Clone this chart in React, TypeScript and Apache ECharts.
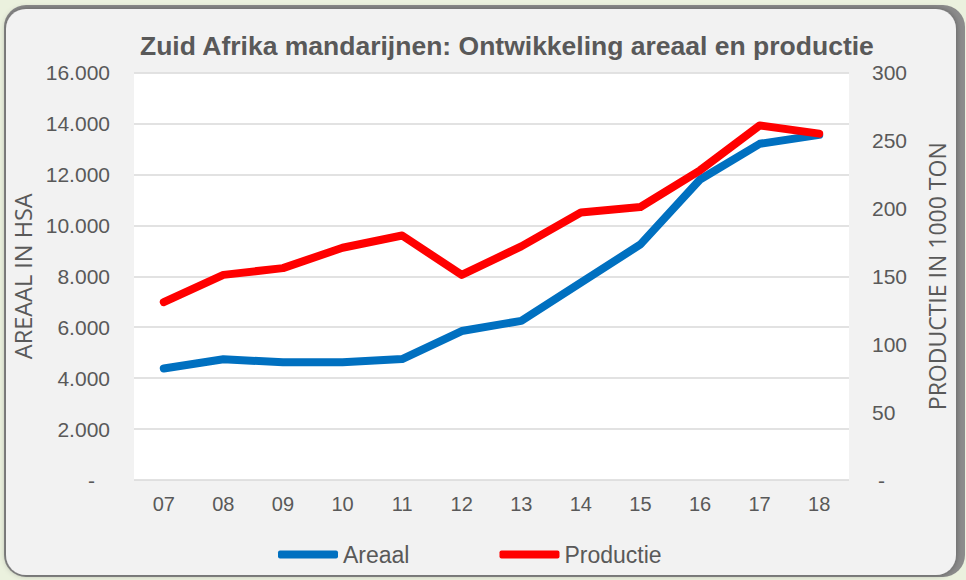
import React, { useEffect, useRef } from "react";
import * as echarts from "echarts";

const years = ["07", "08", "09", "10", "11", "12", "13", "14", "15", "16", "17", "18"];
const areaal = [4380, 4740, 4620, 4620, 4750, 5850, 6250, 7750, 9250, 11800, 13200, 13550];
const productie = [131, 151, 156, 171, 180, 151, 172, 197, 201, 228, 261, 255];
const leftTicks = { min: 0, max: 16000, interval: 2000 };
const rightTicks = { min: 0, max: 300, interval: 50 };

const TXT = "#595959";

function fmtThousands(v: number): string {
  if (v === 0) return "{z|-}";
  return String(v).replace(/\B(?=(\d{3})+(?!\d))/g, ".");
}

export default function App() {
  const ref = useRef<HTMLDivElement>(null);
  useEffect(() => {
    if (!ref.current) return;
    const chart = echarts.init(ref.current, null, { renderer: "svg" });
    chart.setOption({
      animation: false,
      backgroundColor: "#ebf1de",
      graphic: [
        {
          type: "rect",
          shape: { x: 4, y: 5, width: 961, height: 572, r: 22 },
          style: { fill: "#8c8c8c" },
          z: -10,
        },
        {
          type: "rect",
          shape: { x: 6, y: 9, width: 950, height: 566, r: 20 },
          style: { fill: "#f2f2f2", shadowBlur: 6, shadowColor: "rgba(0,0,0,0.35)" },
          z: -9,
        },
      ],
      title: {
        text: "Zuid Afrika mandarijnen: Ontwikkeling areaal en productie",
        left: 135,
        top: 27,
        textStyle: { fontFamily: "Liberation Sans", fontWeight: "bold", fontSize: 26.5, color: TXT },
      },
      grid: {
        left: 134,
        right: 117,
        top: 72.5,
        bottom: 100,
        show: true,
        backgroundColor: "#ffffff",
        borderWidth: 0,
      },
      legend: {
        left: 273,
        top: 538,
        itemWidth: 60,
        itemHeight: 8,
        itemGap: 90,
        icon: "roundRect",
        textStyle: { fontFamily: "Liberation Sans", fontSize: 23, color: TXT },
        data: ["Areaal", "Productie"],
      },
      xAxis: {
        type: "category",
        data: years,
        boundaryGap: true,
        axisLine: { show: false },
        axisTick: { show: false },
        axisLabel: { fontFamily: "Liberation Sans", fontSize: 20, color: TXT, margin: 14 },
      },
      yAxis: [
        {
          type: "value",
          ...leftTicks,
          name: "AREAAL IN HSA",
          nameLocation: "middle",
          nameGap: 97,
          nameRotate: 90,
          nameTextStyle: { fontFamily: "Open Sans", fontSize: 23.5, color: TXT },
          axisLine: { show: false },
          axisTick: { show: false },
          splitLine: { lineStyle: { color: "#d9d9d9", width: 1.5 } },
          axisLabel: {
            fontFamily: "Liberation Sans",
            fontSize: 21,
            color: TXT,
            margin: 24,
            formatter: fmtThousands,
            rich: { z: { fontFamily: "Liberation Sans", fontSize: 21, color: TXT, padding: [0, 15, 0, 0] } },
          },
        },
        {
          type: "value",
          ...rightTicks,
          name: "PRODUCTIE IN 1000 TON",
          nameLocation: "middle",
          nameGap: 76,
          nameRotate: 90,
          nameTextStyle: { fontFamily: "Open Sans", fontSize: 23, color: TXT },
          axisLine: { show: false },
          axisTick: { show: false },
          splitLine: { show: false },
          axisLabel: {
            fontFamily: "Liberation Sans",
            fontSize: 21,
            color: TXT,
            margin: 23,
            formatter: (v: number) => (v === 0 ? "{z|-}" : String(v)),
            rich: { z: { fontFamily: "Liberation Sans", fontSize: 21, color: TXT, padding: [0, 0, 0, 6] } },
          },
        },
      ],
      series: [
        {
          name: "Areaal",
          type: "line",
          yAxisIndex: 0,
          data: areaal,
          showSymbol: false,
          symbol: "none",
          itemStyle: { color: "#0070c0" },
          lineStyle: { color: "#0070c0", width: 8, cap: "round", join: "round" },
        },
        {
          name: "Productie",
          type: "line",
          yAxisIndex: 1,
          data: productie,
          showSymbol: false,
          symbol: "none",
          itemStyle: { color: "#ff0000" },
          lineStyle: { color: "#ff0000", width: 8, cap: "round", join: "round" },
        },
      ],
    });
    return () => chart.dispose();
  }, []);
  return <div ref={ref} style={{ position: "fixed", left: 0, top: 0, width: 966, height: 580 }} />;
}
